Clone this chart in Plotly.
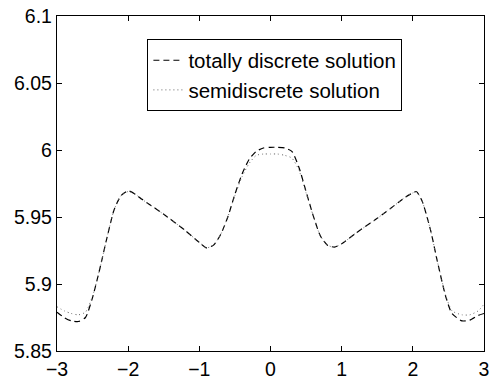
import plotly.graph_objects as go

x_vals = [-3.0, -2.9, -2.8, -2.7, -2.6, -2.5, -2.4, -2.3, -2.2, -2.1, -2.0, -1.9, -1.8,
          -1.5, -1.2, -1.0, -0.9, -0.8, -0.7, -0.6, -0.5, -0.4, -0.3, -0.2, -0.1, 0.0,
          0.1, 0.2, 0.3, 0.4, 0.5, 0.6, 0.7, 0.8, 0.9, 1.0, 1.2, 1.5, 1.8, 1.9, 2.0,
          2.05, 2.13, 2.25, 2.34, 2.46, 2.55, 2.69, 2.8, 2.92, 3.0]

totally_discrete = [5.879, 5.875, 5.8725, 5.872, 5.875, 5.890, 5.911, 5.934, 5.955, 5.966,
                    5.9695, 5.967, 5.963, 5.952, 5.940, 5.931, 5.927, 5.929, 5.937, 5.950,
                    5.967, 5.982, 5.993, 5.999, 6.0015, 6.002, 6.002, 6.0015, 5.999, 5.987,
                    5.969, 5.951, 5.936, 5.929, 5.9275, 5.930, 5.938, 5.949, 5.961, 5.965,
                    5.968, 5.969, 5.962, 5.940, 5.918, 5.891, 5.878, 5.8725, 5.873, 5.8766,
                    5.878]

semidiscrete = [5.883, 5.880, 5.878, 5.877, 5.879, 5.891, 5.911, 5.934, 5.955, 5.966,
                5.969, 5.967, 5.963, 5.952, 5.940, 5.931, 5.927, 5.929, 5.937, 5.950,
                5.966, 5.980, 5.990, 5.996, 5.997, 5.997, 5.997, 5.996, 5.994, 5.985,
                5.968, 5.951, 5.936, 5.929, 5.9275, 5.930, 5.938, 5.949, 5.961, 5.965,
                5.968, 5.969, 5.962, 5.940, 5.918, 5.892, 5.880, 5.877, 5.877, 5.880,
                5.885]

x_ticks = [-3, -2, -1, 0, 1, 2, 3]
y_ticks = [5.85, 5.9, 5.95, 6.0, 6.05, 6.1]
y_tick_labels = ["5.85", "5.9", "5.95", "6", "6.05", "6.1"]
x_tick_labels = ["\u22123", "\u22122", "\u22121", "0", "1", "2", "3"]

FONT = "Liberation Sans, Arial"

fig = go.Figure()
fig.add_trace(go.Scatter(x=x_vals, y=totally_discrete, mode="lines",
                         name="totally discrete solution",
                         line=dict(color="black", width=1.2, dash="6px,4px", shape="spline", smoothing=0.6)))
fig.add_trace(go.Scatter(x=x_vals, y=semidiscrete, mode="lines",
                         name="semidiscrete solution",
                         line=dict(color="#666666", width=1, dash="1px,3px", shape="spline", smoothing=0.6)))

axis_common = dict(showgrid=False, zeroline=False, showline=True, linecolor="black",
                   linewidth=1.3, ticks="inside", ticklen=5, tickcolor="black",
                   mirror="ticks", tickfont=dict(family=FONT, size=19.5, color="black"))

fig.update_xaxes(range=[-3, 3], tickvals=x_ticks, ticktext=x_tick_labels, **axis_common)
fig.update_yaxes(range=[5.85, 6.1], tickvals=y_ticks, ticktext=y_tick_labels, **axis_common)

fig.update_layout(
    width=494, height=385,
    margin=dict(l=57, r=5, t=12, b=32),
    paper_bgcolor="white", plot_bgcolor="white",
    font=dict(family=FONT, size=20, color="black"),
    legend=dict(x=0.211, y=0.931, xanchor="left", yanchor="top",
                bordercolor="black", borderwidth=1.3, bgcolor="white",
                font=dict(size=20.5), itemwidth=30, tracegroupgap=0),
    showlegend=True,
)

fig.write_html("out.html")
